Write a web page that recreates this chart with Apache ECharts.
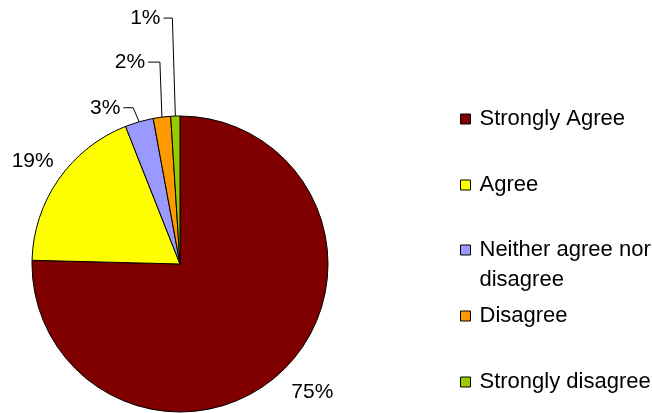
<!DOCTYPE html>
<html>
<head>
<meta charset="utf-8">
<script src="https://cdn.jsdelivr.net/npm/echarts@6/dist/echarts.min.js"></script>
<style>
  html, body { margin: 0; padding: 0; background: #fff; }
  #main { width: 652px; height: 413px; }
</style>
</head>
<body>
<div id="main"></div>
<script>
  const categories = ['Strongly Agree', 'Agree', 'Neither agree nor disagree', 'Disagree', 'Strongly disagree'];
  const shares = [75.4, 18.6, 3.1, 1.9, 1.0];
  const sliceColors = ['#800000', '#FFFF00', '#9999FF', '#FF9900', '#99CC00'];

  // label placement relative to the slice's edge point (layout only)
  const labelPlace = [
    { dx: 29, dy: 22 },
    { dx: -26, dy: -18 },
    { dx: -34, dy: -14, bend: -6 },
    { dx: -32, dy: -55, bend: -2 },
    { dx: -30, dy: -98, bend: -3 }
  ];
  const legendTops = [105, 171, 205, 302, 368];

  const font = "'Liberation Sans', Arial, sans-serif";
  const chart = echarts.init(document.getElementById('main'));

  const legends = categories.map(function (name, i) {
    const twoLines = name === 'Neither agree nor disagree';
    return {
      data: [name],
      orient: 'vertical',
      left: 460,
      top: legendTops[i],
      padding: 0,
      icon: 'rect',
      itemWidth: 10,
      itemHeight: 10,
      itemStyle: { borderColor: '#000', borderWidth: 1 },
      selectedMode: false,
      // blank first line keeps the marker level with the first text line
      formatter: twoLines ? ' \nNeither agree nor\ndisagree' : name,
      textStyle: {
        fontFamily: font,
        fontSize: 22,
        color: '#000',
        lineHeight: twoLines ? 30 : 28,
        padding: [0, 0, 0, 4]
      }
    };
  });

  const option = {
    backgroundColor: '#fff',
    animation: false,
    legend: legends,
    series: [
      {
        type: 'pie',
        center: [180, 264],
        radius: 148,
        startAngle: 90,
        clockwise: true,
        percentPrecision: 0,
        avoidLabelOverlap: false,
        silent: true,
        itemStyle: { borderColor: '#000', borderWidth: 1 },
        label: {
          show: true,
          position: 'outside',
          formatter: '{d}%',
          fontFamily: font,
          fontSize: 21,
          color: '#000'
        },
        labelLine: {
          show: true,
          length: 10,
          length2: 10,
          lineStyle: { color: '#000', width: 1 }
        },
        labelLayout: function (p) {
          const pl = labelPlace[p.dataIndex];
          const a = p.labelLinePoints[0];
          const x = a[0] + pl.dx;
          const y = a[1] + pl.dy;
          const out = { x: x, y: y, align: 'center', verticalAlign: 'middle' };
          if (pl.bend != null) {
            out.labelLinePoints = [a, [a[0] + pl.bend, y], [x + p.labelRect.width / 2 + 3, y]];
          }
          return out;
        },
        data: categories.map(function (name, i) {
          const item = { name: name, value: shares[i], itemStyle: { color: sliceColors[i] } };
          if (labelPlace[i].bend == null) item.labelLine = { lineStyle: { opacity: 0 } };
          return item;
        })
      }
    ]
  };

  chart.setOption(option);
</script>
</body>
</html>
